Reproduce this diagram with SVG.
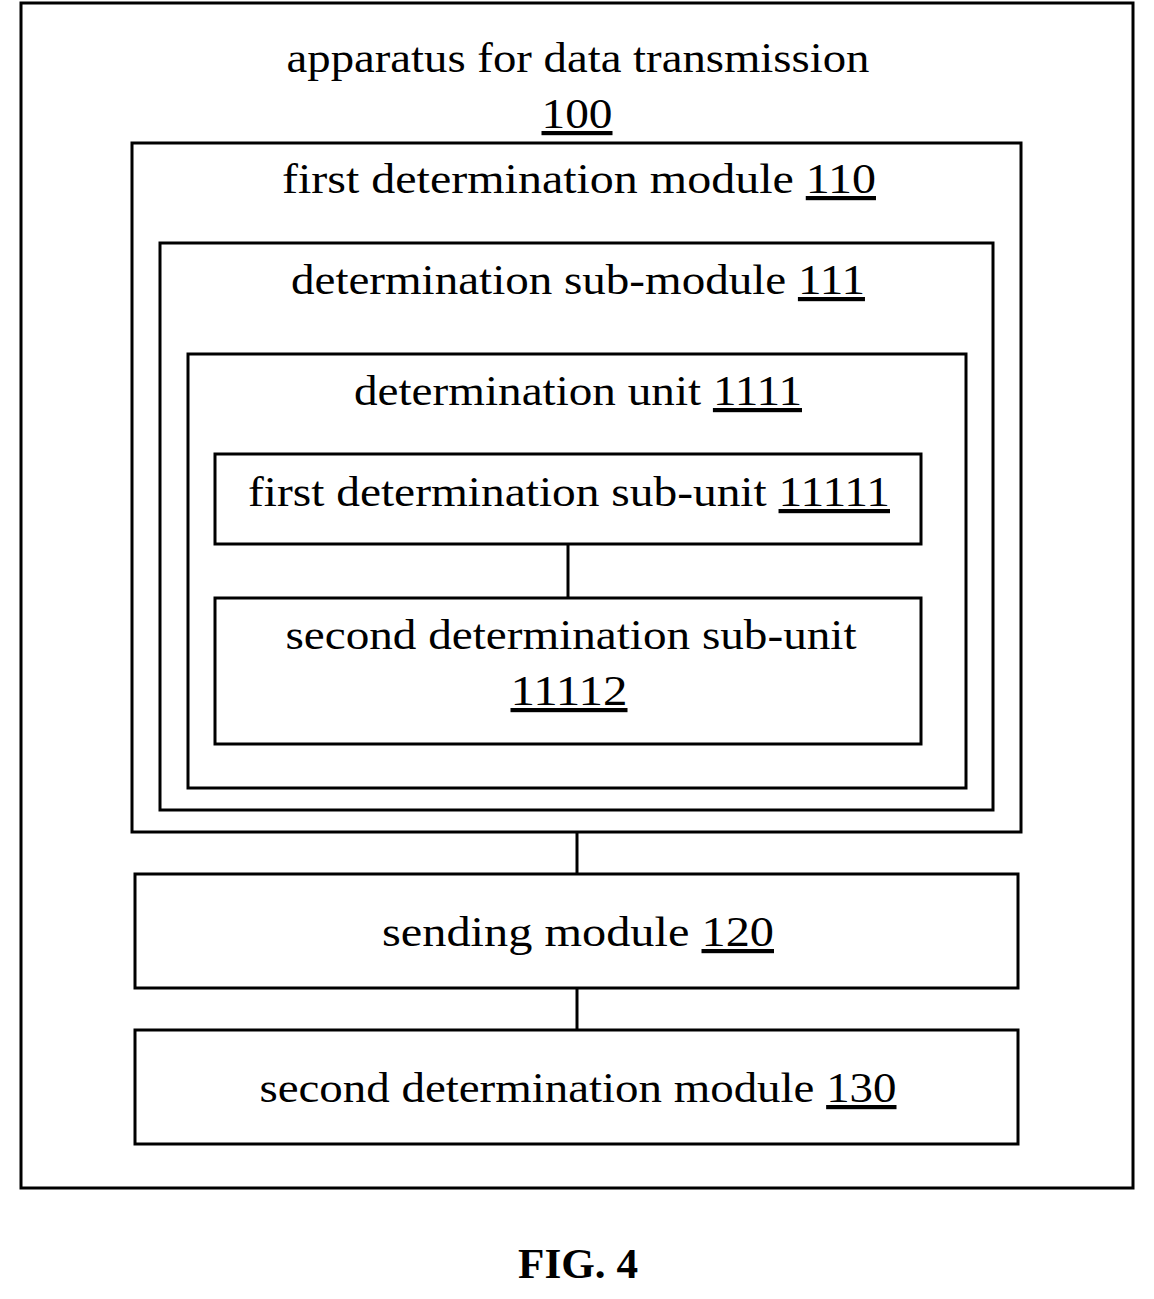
<svg xmlns="http://www.w3.org/2000/svg" width="1154" height="1299" viewBox="0 0 1154 1299">
<style>
rect{fill:none;stroke:#000;stroke-width:3}
text{font-family:"Liberation Serif","Times New Roman",serif;font-size:42px;fill:#000;text-anchor:middle}
.u{text-decoration:underline}
line{stroke:#000;stroke-width:3}
</style>
<rect x="0" y="0" width="1154" height="1299" style="fill:#fff;stroke:none"/>
<g id="n100"><rect x="21" y="3" width="1112" height="1185"/>
<text x="578" y="72" textLength="583" lengthAdjust="spacingAndGlyphs">apparatus for data transmission</text>
<text x="577" y="128" class="u" textLength="71" lengthAdjust="spacingAndGlyphs">100</text></g>
<g id="n110"><rect x="132" y="143" width="889" height="689"/>
<text x="579" y="193" textLength="594" lengthAdjust="spacingAndGlyphs">first determination module  <tspan class="u">110</tspan></text></g>
<g id="n111"><rect x="160" y="243" width="833" height="567"/>
<text x="578" y="294" textLength="574" lengthAdjust="spacingAndGlyphs">determination sub-module <tspan class="u">111</tspan></text></g>
<g id="n1111"><rect x="188" y="354" width="778" height="434"/>
<text x="578" y="405" textLength="448" lengthAdjust="spacingAndGlyphs">determination unit <tspan class="u">1111</tspan></text></g>
<g id="n11111"><rect x="215" y="454" width="706" height="90"/>
<text x="569" y="506" textLength="642" lengthAdjust="spacingAndGlyphs">first determination sub-unit <tspan class="u">11111</tspan></text></g>
<g id="n11112"><rect x="215" y="598" width="706" height="146"/>
<text x="571" y="649" textLength="571" lengthAdjust="spacingAndGlyphs">second determination sub-unit</text>
<text x="569" y="705" class="u" textLength="117" lengthAdjust="spacingAndGlyphs">11112</text></g>
<g id="n120"><rect x="135" y="874" width="883" height="114"/>
<text x="578" y="946" textLength="392" lengthAdjust="spacingAndGlyphs">sending module  <tspan class="u">120</tspan></text></g>
<g id="n130"><rect x="135" y="1030" width="883" height="114"/>
<text x="578" y="1102" textLength="637" lengthAdjust="spacingAndGlyphs">second determination module <tspan class="u">130</tspan></text></g>
<g id="connectors">
<line x1="568" y1="544" x2="568" y2="598"/>
<line x1="577" y1="832" x2="577" y2="874"/>
<line x1="577" y1="988" x2="577" y2="1030"/>
</g>
<text x="578" y="1278" style="font-weight:bold" textLength="120" lengthAdjust="spacingAndGlyphs">FIG. 4</text>
</svg>
